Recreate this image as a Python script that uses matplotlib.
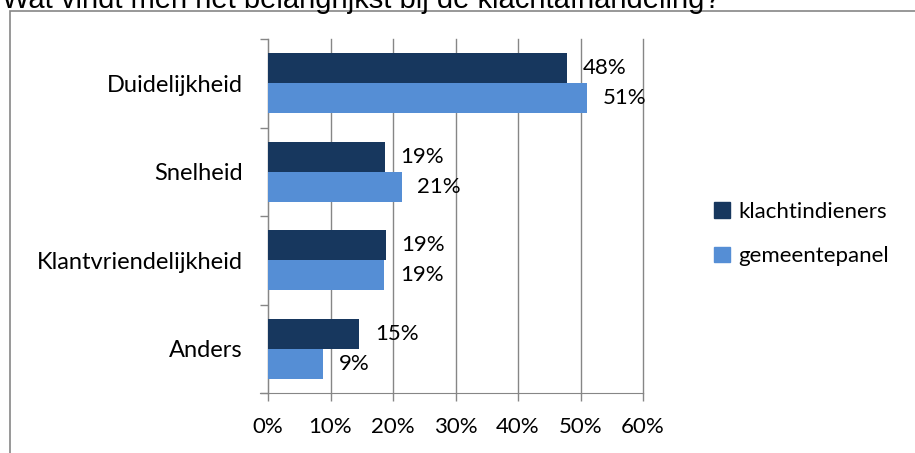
import matplotlib.pyplot as plt
import numpy as np
from matplotlib.patches import Rectangle, Patch

# data
categories = ['Duidelijkheid', 'Snelheid', 'Klantvriendelijkheid', 'Anders']
klachtindieners = [47.8, 18.7, 18.8, 14.6]
gemeentepanel = [51.1, 21.4, 18.6, 8.8]
series_names = ['klachtindieners', 'gemeentepanel']
xticks = [0, 10, 20, 30, 40, 50, 60]

dark = '#17375E'
light = '#558ED5'
grid_col = '#868686'
font = ['Lato', 'DejaVu Sans']
fs = 16

fig = plt.figure(figsize=(9.15, 4.53), dpi=100)
W, H = 915, 453

# outer chart frame (cropped on right/bottom)
fig.patches.append(Rectangle((10 / W, -0.1), 1.2, 1 - 11 / H + 0.1,
                             transform=fig.transFigure, fill=False,
                             edgecolor=grid_col, linewidth=1.2))

# title, partially cut off at top
fig.text(2 / W, 1 - 8 / H, 'Wat vindt men het belangrijkst bij de klachtafhandeling?',
         fontsize=21, family='Liberation Sans', va='baseline', ha='left')

ax = fig.add_axes([268 / W, 1 - 393 / H, (643 - 268) / W, (393 - 39) / H])

y = np.arange(len(categories))
h = 0.34
ax.barh(y - h / 2, klachtindieners, height=h, color=dark, zorder=3)
ax.barh(y + h / 2, gemeentepanel, height=h, color=light, zorder=3)

for i in range(len(categories)):
    ax.text(klachtindieners[i] + 2.5, y[i] - h / 2, '%.0f%%' % klachtindieners[i],
            va='center', ha='left', fontsize=fs, family=font, zorder=4)
    ax.text(gemeentepanel[i] + 2.5, y[i] + h / 2, '%.0f%%' % gemeentepanel[i],
            va='center', ha='left', fontsize=fs, family=font, zorder=4)

ax.set_ylim(len(categories) - 0.5, -0.5)
ax.set_xlim(0, 60)

ax.set_xticks(xticks)
ax.set_xticklabels(['%d%%' % v for v in xticks], fontsize=fs, family=font)
ax.set_yticks(np.arange(-0.5, len(categories), 1.0))
ax.set_yticklabels([])
ax.set_yticks(y, minor=True)
ax.set_yticklabels(categories, minor=True, fontsize=fs + 1, family=font)
ax.tick_params(axis='y', which='minor', length=0, pad=18)
ax.tick_params(axis='y', which='major', length=6, color=grid_col, width=1)
ax.tick_params(axis='x', length=6, color=grid_col, width=1, pad=11)

ax.grid(axis='x', color=grid_col, linewidth=1, zorder=0)
for gl in ax.get_xgridlines():
    gl.set_clip_on(False)
for s in ['top', 'right']:
    ax.spines[s].set_visible(False)
for s in ['left', 'bottom']:
    ax.spines[s].set_color(grid_col)
ax.spines['bottom'].set_bounds(-1.3, 60)

handles = [Patch(color=dark), Patch(color=light)]
fig.legend(handles, series_names, loc='center left',
           bbox_to_anchor=(694 / W, 1 - 234 / H), frameon=False,
           prop={'family': font, 'size': fs}, handlelength=0.7,
           handleheight=0.7, handletextpad=0.4, labelspacing=1.1)

fig.savefig('out.png', dpi=100)
